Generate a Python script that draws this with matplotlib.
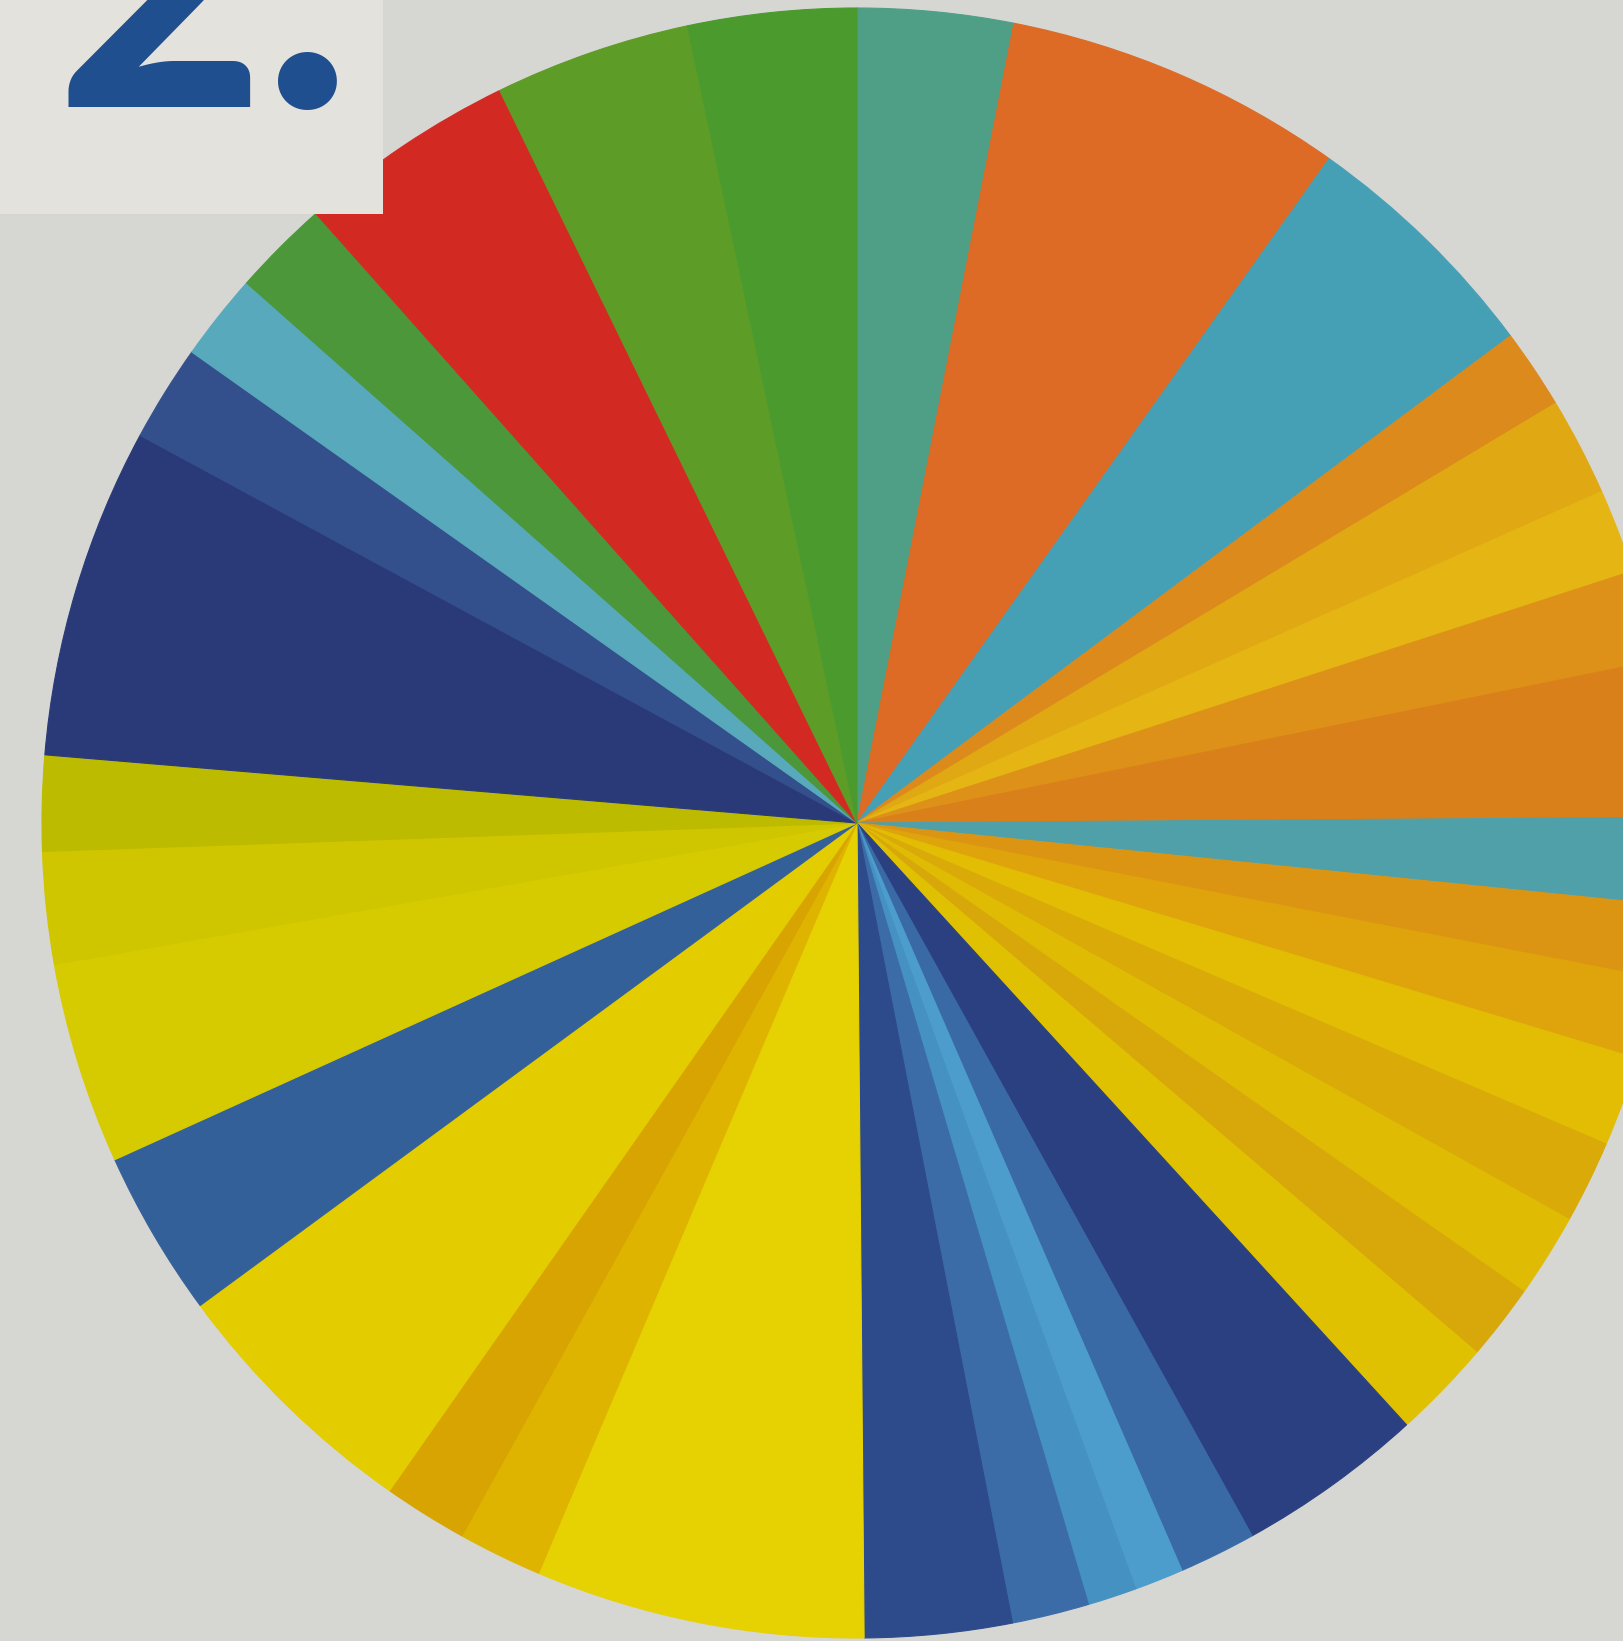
import matplotlib
matplotlib.use("Agg")
import matplotlib.pyplot as plt
from matplotlib.patches import Rectangle

# slice sizes in degrees, clockwise from 12 o'clock
sizes = [11.1, 24.3, 17.9, 5.7, 7.0, 6.0, 6.5, 11.1, 6.2, 5.2,
         5.8, 6.4, 5.9, 6.0, 5.4, 7.1,
         13.4, 5.5, 3.5, 3.5, 5.5, 10.5,
         23.5, 6.0, 6.0, 18.7,
         11.9, 14.4, 8.0, 6.8,
         23.6, 6.9, 6.2, 6.9, 15.6, 14.0, 12.0]

colors = ['#4f9f87', '#dd6a25', '#46a0b5', '#dd8a1c', '#e0a812', '#e5b514',
          '#dd9118', '#d9801a', '#50a0aa', '#dc9512',
          '#dfa40c', '#e2bd04', '#d9aa08', '#e0bb03', '#d8a80a', '#e0c102',
          '#2b4080', '#3a6aa6', '#4c9dcb', '#4592c2', '#3c6ca8', '#2d4a8a',
          '#e6d102', '#dfb400', '#d7a402', '#e3cc00',
          '#34609a', '#d6cb00', '#cfc600', '#bcbb00',
          '#2a3a78', '#34508c', '#58a9bc', '#4b973a', '#d22a22', '#5e9c28',
          '#4a9a2e']

label = "2."

W, H = 1624, 1641
fig = plt.figure(figsize=(W / 100, H / 100), dpi=100)
fig.patch.set_facecolor('#d6d6d3')
ax = fig.add_axes([0, 0, 1, 1])
ax.set_facecolor('#d6d6d3')

wedges, _ = ax.pie(sizes, colors=colors, startangle=90, counterclock=False,
                   center=(857, H - 823), radius=815)
for w in wedges:
    w.set_edgecolor(w.get_facecolor())
    w.set_linewidth(0.8)

# label card in the top left corner
ax.add_patch(Rectangle((0, H - 214), 383, 214, facecolor='#e4e2dc',
                       edgecolor='none', zorder=5))
ax.text(56, H - 107, label, fontsize=260, fontweight='black',
        color='#1f4f8f', ha='left', va='baseline', zorder=6,
        family=['Lato', 'DejaVu Sans'])

ax.set_xlim(0, W)
ax.set_ylim(0, H)
ax.set_aspect('auto')
ax.axis('off')

fig.savefig('out.png', dpi=100, facecolor=fig.get_facecolor())
